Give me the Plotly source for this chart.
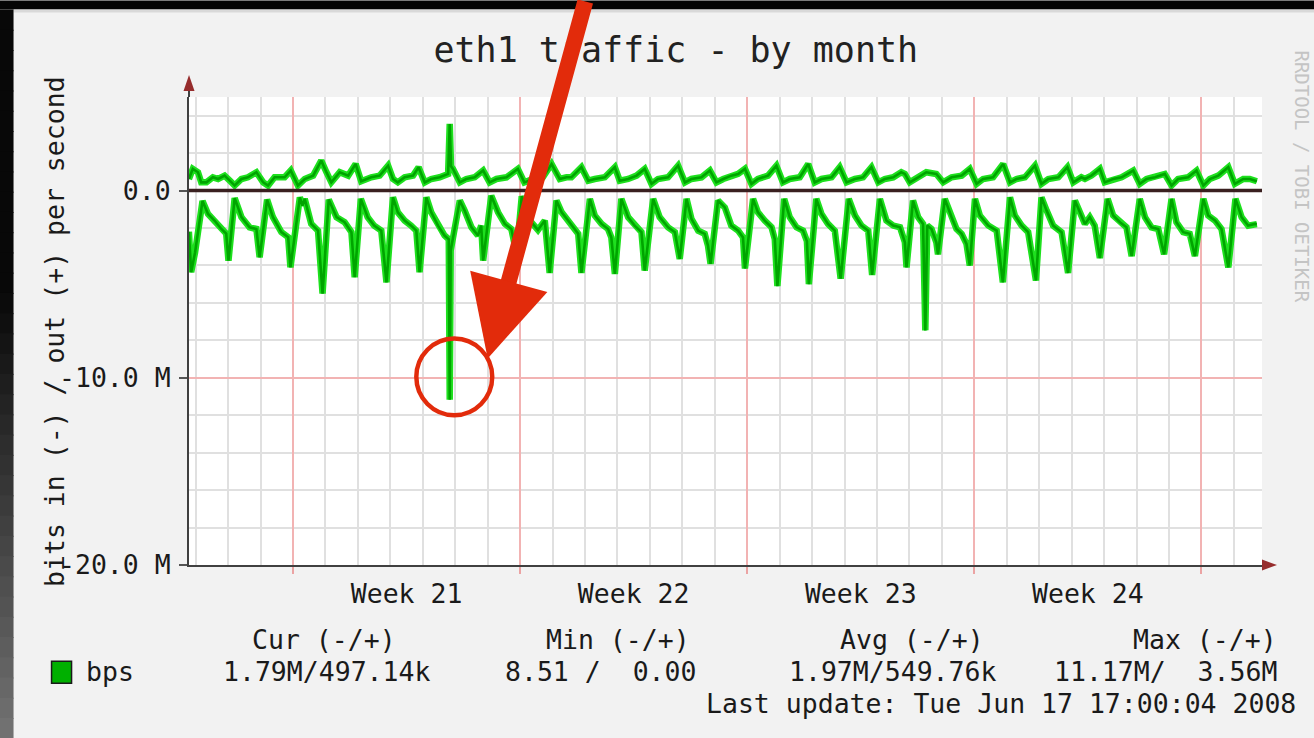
import plotly.graph_objects as go

# ---------------- data (days since Monday of week 21, Mbit/s) ----------------
in_day = [-3.21, -3.14, -3.02, -2.79, -2.62, -2.42, -2.21, -2.06, -1.99, -1.80, -1.59, -1.34, -1.13, -1.03,
          -0.80, -0.62, -0.36, -0.15, -0.08, 0.21, 0.29, 0.36, 0.56, 0.77, 0.91, 1.10, 1.34, 1.59, 1.80, 1.90,
          2.09, 2.30, 2.50, 2.72, 2.88, 3.08, 3.23, 3.44, 3.64, 3.80, 3.90, 4.11, 4.26, 4.47, 4.67, 4.80, 4.83,
          4.86, 5.14, 5.29, 5.50, 5.70, 5.80, 5.86, 6.11, 6.32, 6.53, 6.73, 6.89, 7.05, 7.30, 7.55, 7.76, 7.91,
          8.12, 8.28, 8.48, 8.69, 8.79, 8.89, 9.15, 9.30, 9.51, 9.71, 9.81, 9.92, 10.12, 10.33, 10.53, 10.74,
          10.84, 11.10, 11.30, 11.56, 11.77, 11.92, 12.13, 12.28, 12.49, 12.69, 12.79, 12.87, 13.10, 13.31,
          13.51, 13.72, 13.87, 13.93, 14.18, 14.33, 14.54, 14.75, 14.85, 14.93, 15.14, 15.31, 15.52, 15.72,
          15.84, 15.90, 16.13, 16.29, 16.49, 16.70, 16.88, 17.13, 17.32, 17.52, 17.73, 17.85, 18.09, 18.29,
          18.50, 18.71, 18.86, 18.91, 19.11, 19.27, 19.42, 19.49, 19.55, 19.68, 19.83, 19.88, 20.09, 20.30,
          20.45, 20.61, 20.76, 20.86, 21.02, 21.17, 21.43, 21.69, 21.88, 22.10, 22.25, 22.46, 22.66, 22.90,
          23.07, 23.23, 23.43, 23.69, 23.89, 24.10, 24.41, 24.56, 24.71, 24.87, 25.11, 25.28, 25.49, 25.69,
          25.85, 26.10, 26.26, 26.46, 26.67, 26.85, 27.08, 27.23, 27.44, 27.64, 27.80, 28.06, 28.21, 28.42,
          28.62, 28.83, 29.05, 29.24, 29.44, 29.65, 29.71]
in_mbps = [2.20, 4.36, 3.30, 0.55, 1.25, 1.60, 2.05, 2.30, 3.74, 0.40, 1.42, 1.96, 2.05, 3.56,
           0.48, 1.42, 2.22, 2.49, 4.10, 0.36, 0.80, 0.44, 1.78, 2.14, 5.50, 0.48, 1.42, 1.69, 2.22, 4.63,
           0.44, 1.42, 1.87, 2.14, 4.90, 0.36, 1.16, 1.60, 1.87, 2.14, 4.36, 0.36, 1.16, 1.87, 2.40, 2.60, 11.17,
           3.20, 0.53, 1.07, 1.96, 2.40, 1.87, 3.74, 0.27, 1.16, 1.78, 2.05, 3.37, 0.30, 1.60, 2.10, 1.60, 4.40,
           0.53, 1.16, 1.60, 2.05, 2.31, 4.40, 0.44, 1.33, 1.78, 2.05, 2.49, 4.45, 0.44, 1.42, 1.87, 2.22,
           4.27, 0.44, 1.42, 1.96, 2.22, 3.65, 0.44, 1.51, 2.14, 2.31, 2.94, 3.91, 0.53, 0.90,
           1.87, 2.14, 2.50, 4.16, 0.44, 1.16, 1.60, 1.96, 2.60, 5.10, 0.44, 1.42, 1.96, 2.14,
           2.70, 5.00, 0.44, 1.25, 1.78, 2.14, 4.70, 0.44, 1.33, 1.87, 2.14, 4.50, 0.44, 1.60,
           1.87, 1.96, 2.76, 4.10, 0.53, 1.42, 1.78, 7.47, 1.87, 2.05, 2.76, 3.40, 0.44, 1.42,
           2.05, 2.31, 2.85, 4.00, 0.44, 1.33, 1.87, 2.14, 4.90, 0.36, 1.33, 1.87, 2.22, 4.80,
           0.36, 1.07, 1.87, 2.22, 4.40, 0.53, 1.78, 1.42, 1.87, 3.60, 0.44, 1.33, 1.69, 1.96,
           3.50, 0.44, 1.42, 1.96, 2.05, 3.40, 0.44, 1.69, 2.22, 2.31, 3.50, 0.44, 1.33, 1.60,
           2.05, 4.10, 0.44, 1.42, 1.87, 1.78, 1.79]

out_day = [-3.21, -3.09, -2.93, -2.83, -2.67, -2.47, -2.31, -2.11, -1.95, -1.80, -1.59, -1.39, -1.13, -0.92,
           -0.77, -0.57, -0.26, -0.07, 0.15, 0.36, 0.62, 0.87, 1.03, 1.18, 1.44, 1.70, 1.93, 2.10, 2.41, 2.67,
           2.93, 3.08, 3.23, 3.44, 3.70, 3.87, 4.06, 4.26, 4.52, 4.78, 4.83, 4.87, 4.93, 5.14, 5.34, 5.60, 5.86,
           6.06, 6.27, 6.58, 6.93, 7.13, 7.40, 7.70, 7.97, 8.22, 8.43, 8.58, 8.89, 9.10, 9.30, 9.61, 9.92,
           10.07, 10.33, 10.59, 10.84, 11.05, 11.25, 11.56, 11.87, 12.08, 12.28, 12.59, 12.85, 13.05, 13.26,
           13.51, 13.72, 13.93, 14.13, 14.33, 14.64, 14.90, 15.10, 15.31, 15.62, 15.88, 16.08, 16.29, 16.60,
           16.85, 17.06, 17.32, 17.57, 17.83, 18.04, 18.24, 18.50, 18.75, 18.86, 19.01, 19.27, 19.52, 19.83,
           20.04, 20.30, 20.61, 20.86, 21.07, 21.27, 21.58, 21.89, 22.10, 22.30, 22.56, 22.87, 23.07, 23.28,
           23.59, 23.87, 24.05, 24.30, 24.41, 24.61, 24.87, 25.02, 25.28, 25.54, 25.90, 26.10, 26.31, 26.57,
           26.87, 27.08, 27.28, 27.59, 27.85, 28.06, 28.26, 28.52, 28.83, 29.03, 29.29, 29.49, 29.71]
out_mbps = [0.62, 1.16, 0.98, 0.44, 0.44, 0.71, 0.62, 0.80, 0.53, 0.27, 0.62, 0.71, 0.98, 0.44,
            0.27, 0.71, 0.71, 1.07, 0.27, 0.62, 0.80, 1.60, 0.98, 0.44, 0.98, 0.80, 1.42, 0.50, 0.71, 0.80,
            1.33, 0.62, 0.44, 0.71, 0.80, 1.25, 0.44, 0.62, 0.71, 0.89, 3.56, 1.30, 1.16, 0.44, 0.62, 0.71, 1.07,
            0.44, 0.62, 0.71, 1.16, 0.44, 0.62, 0.71, 1.42, 0.62, 0.71, 0.71, 1.25, 0.53, 0.62, 0.71, 1.25,
            0.53, 0.62, 0.80, 1.16, 0.36, 0.62, 0.71, 1.33, 0.44, 0.62, 0.71, 1.07, 0.44, 0.62,
            0.80, 0.89, 1.16, 0.36, 0.62, 0.80, 1.33, 0.44, 0.62, 0.71, 1.42, 0.44, 0.62, 0.71,
            1.25, 0.44, 0.62, 0.71, 1.25, 0.44, 0.62, 0.71, 0.98, 0.89, 0.44, 0.71, 0.98, 0.89,
            0.44, 0.71, 0.80, 1.16, 0.36, 0.62, 0.71, 1.42, 0.44, 0.62, 0.71, 1.33, 0.36, 0.62,
            0.71, 1.25, 0.44, 0.71, 0.62, 0.80, 1.16, 0.44, 0.62, 0.71, 1.07, 0.36, 0.62, 0.71,
            0.89, 0.27, 0.62, 0.71, 1.07, 0.27, 0.62, 0.80, 1.25, 0.36, 0.62, 0.62, 0.50]

week_labels = ["Week 21", "Week 22", "Week 23", "Week 24"]
week_mid_days = [3.5, 10.5, 17.5, 24.5]
week_start_days = [0, 7, 14, 21, 28]
y_tick_vals = [-20, -10, 0]
y_tick_text = ["-20.0 M", "-10.0 M", "0.0"]
stat_headers = ["Cur (-/+)", "Min (-/+)", "Avg (-/+)", "Max (-/+)"]
stat_values = ["1.79M/497.14k", "8.51 /  0.00", "1.97M/549.76k", "11.17M/  3.56M"]
legend_label = "bps"
last_update = "Last update: Tue Jun 17 17:00:04 2008"

# ---------------- layout geometry ----------------
FIG_W, FIG_H = 1314, 738
PL, PR, PT, PB = 189.4, 1262.0, 96.5, 564.7
X_RANGE = [-3.207, 29.868]
Y_RANGE = [-20, 5]
MONO = "DejaVu Sans Mono"


def fx(px):
    return (px - PL) / (PR - PL)


def fy(py):
    return (PB - py) / (PB - PT)


fig = go.Figure()

in_neg = [-v for v in in_mbps]
for xs, ys in ((in_day, in_neg), (out_day, out_mbps)):
    fig.add_trace(go.Scatter(x=xs, y=ys, mode="lines", line=dict(color="#1ee01e", width=6.5),
                             hoverinfo="skip", showlegend=False))
    fig.add_trace(go.Scatter(x=xs, y=ys, mode="lines", line=dict(color="#00a400", width=2.6),
                             hoverinfo="skip", showlegend=False))

# invisible trace to anchor the label axis
fig.add_trace(go.Scatter(x=[week_mid_days[0]], y=[0], xaxis="x2", mode="markers",
                         marker=dict(opacity=0), hoverinfo="skip", showlegend=False))

shapes = []
# dark frame around the screenshot
shapes.append(dict(type="rect", xref="paper", yref="paper", x0=fx(0), x1=fx(FIG_W), y0=fy(0), y1=fy(9),
                   fillcolor="#050505", line=dict(width=0), layer="below"))
shapes.append(dict(type="rect", xref="paper", yref="paper", x0=fx(14), x1=fx(FIG_W), y0=fy(9), y1=fy(12),
                   fillcolor="#d9d9d9", line=dict(width=0), layer="below"))
n_seg = 36
for i in range(n_seg):
    y_a = 9 + (FIG_H - 9) * i / n_seg
    y_b = 9 + (FIG_H - 9) * (i + 1) / n_seg
    t = max(0.0, (y_a - 280) / (FIG_H - 280))
    g = int(8 + 110 * t)
    shapes.append(dict(type="rect", xref="paper", yref="paper", x0=fx(0), x1=fx(14), y0=fy(y_a), y1=fy(y_b + 1),
                       fillcolor=f"rgb({g},{g},{g})", line=dict(width=0), layer="below"))

# zero rule
shapes.append(dict(type="line", xref="paper", yref="y", x0=0, x1=1, y0=0, y1=0,
                   line=dict(color="#3a2020", width=3.5), layer="above"))
# axis arrows
shapes.append(dict(type="line", xref="paper", yref="paper", xsizemode="pixel", ysizemode="pixel",
                   xanchor=0, yanchor=1, x0=0, x1=0, y0=0, y1=8, line=dict(color="#404040", width=2)))
shapes.append(dict(type="path", xref="paper", yref="paper", xsizemode="pixel", ysizemode="pixel",
                   xanchor=0, yanchor=1, path="M -5.5,6 L 5.5,6 L 0,22 Z",
                   fillcolor="#962c2c", line=dict(width=0)))
shapes.append(dict(type="path", xref="paper", yref="paper", xsizemode="pixel", ysizemode="pixel",
                   xanchor=1, yanchor=0, path="M 0,-5.5 L 0,5.5 L 15,0 Z",
                   fillcolor="#962c2c", line=dict(width=0)))
# legend colour box
shapes.append(dict(type="rect", xref="paper", yref="paper", x0=fx(52), x1=fx(72), y0=fy(683), y1=fy(661),
                   fillcolor="#00b000", line=dict(color="#1a1a1a", width=1.5)))
# red highlight circle
shapes.append(dict(type="circle", xref="x", yref="y", x0=3.80, x1=6.14, y0=-12.0, y1=-7.9,
                   line=dict(color="#e22b0b", width=4.5), layer="above"))

annotations = []
# y axis title
annotations.append(dict(text="bits in (-) / out (+) per second", xref="paper", yref="paper",
                        x=fx(55), y=fy(331), xanchor="center", yanchor="middle", textangle=-90,
                        showarrow=False, font=dict(family=MONO, size=26.5, color="#1a1a1a")))
# watermark
annotations.append(dict(text="RRDTOOL / TOBI OETIKER", xref="paper", yref="paper",
                        x=fx(1302), y=fy(176), xanchor="center", yanchor="middle", textangle=90,
                        showarrow=False, font=dict(family=MONO, size=19, color="#c4c4c4")))
# stats headers
for txt, left in zip(stat_headers, [250, 544, 838, 1131]):
    annotations.append(dict(text=txt, xref="paper", yref="paper", x=fx(left), y=fy(639),
                            xanchor="left", yanchor="middle", showarrow=False,
                            font=dict(family=MONO, size=26.5, color="#1a1a1a")))
annotations.append(dict(text=legend_label, xref="paper", yref="paper", x=fx(84), y=fy(671),
                        xanchor="left", yanchor="middle", showarrow=False,
                        font=dict(family=MONO, size=26.5, color="#1a1a1a")))
for txt, left in zip(stat_values, [221, 503, 787, 1052]):
    annotations.append(dict(text=txt.replace(" ", "\u00a0"), xref="paper", yref="paper", x=fx(left), y=fy(671),
                            xanchor="left", yanchor="middle", showarrow=False,
                            font=dict(family=MONO, size=26.5, color="#1a1a1a")))
annotations.append(dict(text=last_update, xref="paper", yref="paper", x=fx(1298), y=fy(703),
                        xanchor="right", yanchor="middle", showarrow=False,
                        font=dict(family=MONO, size=26.5, color="#1a1a1a")))
# red pointer arrow
annotations.append(dict(text="", x=6.0, y=-8.97, xref="x", yref="y", ax=98, ay=-380,
                        showarrow=True, arrowhead=2, arrowsize=1.0, arrowwidth=16,
                        arrowcolor="#e22b0b", standoff=0))

fig.update_layout(
    width=FIG_W, height=FIG_H,
    margin=dict(l=PL, r=FIG_W - PR, t=PT, b=FIG_H - PB, pad=0),
    paper_bgcolor="#f2f2f2", plot_bgcolor="#ffffff",
    showlegend=False,
    title=dict(text="eth1 traffic - by month", x=fx(676), xref="paper", xanchor="center",
               y=1 - 50 / FIG_H, yref="container", yanchor="middle",
               font=dict(family=MONO, size=35, color="#222222")),
    xaxis=dict(range=X_RANGE, tickmode="array", tickvals=week_start_days, ticktext=[""] * len(week_start_days),
               showticklabels=False, showgrid=True, gridcolor="#f2b3b3", gridwidth=1.5,
               ticks="outside", ticklen=7, tickcolor="#eba3a3", tickwidth=1.5,
               minor=dict(tickmode="linear", tick0=0, dtick=1, showgrid=True, gridcolor="#e0e0e0",
                          gridwidth=1.5, ticks=""),
               showline=True, linecolor="#404040", linewidth=2, zeroline=False, fixedrange=True),
    xaxis2=dict(range=X_RANGE, overlaying="x", anchor="y", side="bottom", tickmode="array",
                tickvals=week_mid_days, ticktext=week_labels, showgrid=False, ticks="", showline=False,
                zeroline=False, ticklabelstandoff=10,
                tickfont=dict(family=MONO, size=26.5, color="#1a1a1a")),
    yaxis=dict(range=Y_RANGE, tickmode="array", tickvals=y_tick_vals, ticktext=y_tick_text,
               showgrid=True, gridcolor="#f2b3b3", gridwidth=1.5,
               minor=dict(tickmode="linear", tick0=0, dtick=2, showgrid=True, gridcolor="#e0e0e0",
                          gridwidth=1.5, ticks=""),
               ticks="outside", ticklen=8, tickcolor="#555555", tickwidth=1.5, ticklabelstandoff=3,
               tickfont=dict(family=MONO, size=26.5, color="#1a1a1a"),
               showline=True, linecolor="#404040", linewidth=2, zeroline=False),
    shapes=shapes,
    annotations=annotations,
)

fig.write_html(
    "out.html",
    config={"displayModeBar": False},
    post_script="document.body.style.margin='0';document.body.style.padding='0';"
                "document.body.style.overflow='hidden';document.documentElement.style.overflow='hidden';",
)
